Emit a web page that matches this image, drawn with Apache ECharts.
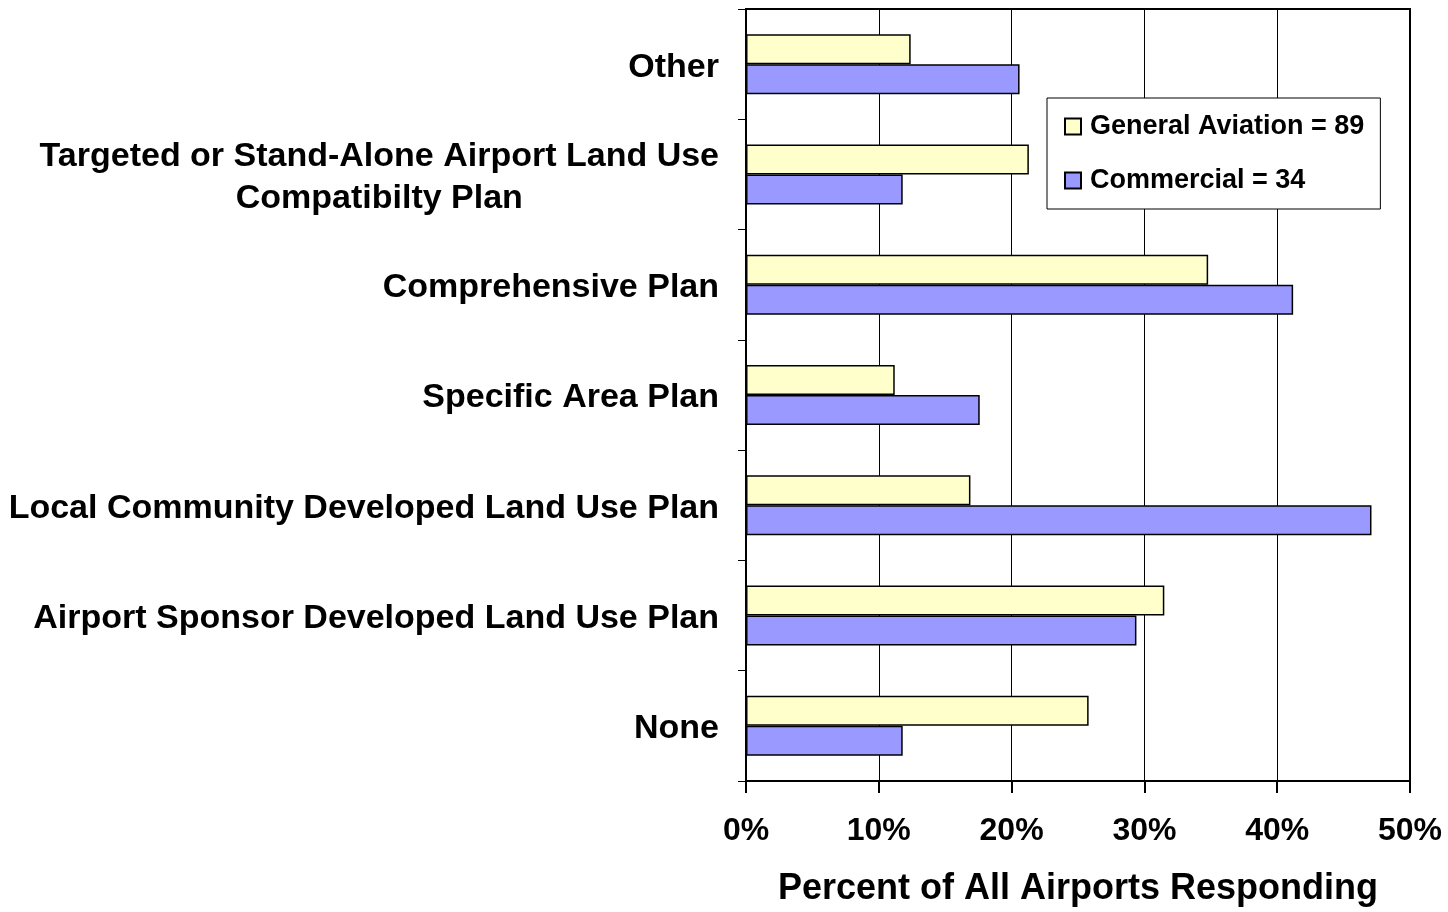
<!DOCTYPE html>
<html>
<head>
<meta charset="utf-8">
<script src="https://cdn.jsdelivr.net/npm/echarts@6/dist/echarts.min.js"></script>
<style>
  html, body { margin: 0; padding: 0; background: #fff; }
  #chart { width: 1448px; height: 912px; }
</style>
</head>
<body>
<div id="chart"></div>
<script>
const categories = [
  'Other',
  'Targeted or Stand-Alone Airport Land Use\nCompatibilty Plan',
  'Comprehensive Plan',
  'Specific Area Plan',
  'Local Community Developed Land Use Plan',
  'Airport Sponsor Developed Land Use Plan',
  'None'
]
const generalAviation = [12.4, 21.3, 34.8, 11.2, 16.9, 31.5, 25.8]   // % of 89
const commercial = [20.6, 11.8, 41.2, 17.6, 47.1, 29.4, 11.8]        // % of 34
const seriesNames = ['General Aviation = 89', 'Commercial = 34']
const tickValues = [0, 10, 20, 30, 40, 50]

const font = '"Liberation Sans", Arial, sans-serif'
const chart = echarts.init(document.getElementById('chart'))

chart.setOption({
  animation: false,
  textStyle: { fontFamily: font },
  grid: {
    left: 746, right: 38, top: 9, bottom: 130,
    show: true, borderColor: '#000', borderWidth: 2, containLabel: false,
  },
  legend: {
    orient: 'vertical',
    left: 1047, top: 98,
    padding: [15, 16, 15, 17],
    itemGap: 27,
    itemWidth: 16, itemHeight: 16,
    icon: 'rect',
    backgroundColor: '#fff',
    borderColor: '#000', borderWidth: 1,
    textStyle: { fontSize: 27, fontWeight: 'bold', color: '#000', fontFamily: font, padding: [0, 0, 0, 4] },
    data: seriesNames,
  },
  xAxis: {
    type: 'value',
    min: tickValues[0], max: tickValues[tickValues.length - 1], interval: 10,
    name: 'Percent of All Airports Responding',
    nameLocation: 'middle',
    nameGap: 90,
    nameTextStyle: { fontSize: 36, fontWeight: 'bold', color: '#000', fontFamily: font },
    axisLine: { lineStyle: { color: '#000', width: 2 } },
    axisTick: { show: true, length: 12, lineStyle: { color: '#000', width: 2 } },
    axisLabel: {
      formatter: '{value}%', margin: 34,
      fontSize: 32, fontWeight: 'bold', color: '#000', fontFamily: font,
    },
    splitLine: { show: true, lineStyle: { color: '#000', width: 1 } },
  },
  yAxis: {
    type: 'category',
    inverse: true,
    data: categories,
    axisLine: { lineStyle: { color: '#000', width: 2 } },
    axisTick: { show: true, length: 8, alignWithLabel: false, lineStyle: { color: '#000', width: 1 } },
    axisLabel: {
      margin: 27,
      padding: [6, 0, 0, 0],
      fontSize: 34, fontWeight: 'bold', color: '#000', fontFamily: font,
      lineHeight: 42,
      formatter: (v) => v.indexOf('\n') >= 0
        ? v.split('\n').map((l) => '{c|' + l + '}').join('\n')
        : v,
      rich: {
        c: { align: 'center', fontSize: 34, fontWeight: 'bold', color: '#000', fontFamily: font, lineHeight: 42 },
      },
    },
  },
  series: [
    {
      name: seriesNames[0],
      type: 'bar',
      data: generalAviation,
      barWidth: 30,
      barGap: '0%',
      itemStyle: { color: '#FFFFCC', borderColor: '#000', borderWidth: 1.5 },
    },
    {
      name: seriesNames[1],
      type: 'bar',
      data: commercial,
      barWidth: 30,
      barGap: '0%',
      itemStyle: { color: '#9999FF', borderColor: '#000', borderWidth: 1.5 },
    },
  ],
})
</script>
</body>
</html>
